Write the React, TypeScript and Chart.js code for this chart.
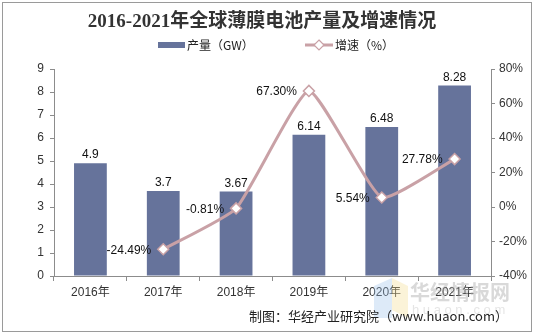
import React, { useEffect, useRef } from "react";
import { Chart, registerables } from "chart.js";

Chart.register(...registerables);

const categories = ["2016年", "2017年", "2018年", "2019年", "2020年", "2021年"];
const output = [4.9, 3.7, 3.67, 6.14, 6.48, 8.28];
const growth: (number | null)[] = [null, -24.49, -0.81, 67.3, 5.54, 27.78];
const growthLabels = ["", "-24.49%", "-0.81%", "67.30%", "5.54%", "27.78%"];
const outputLabels = ["4.9", "3.7", "3.67", "6.14", "6.48", "8.28"];
const titleText = "2016-2021年全球薄膜电池产量及增速情况";
const legendLabels = ["产量（GW）", "增速（%）"];

const BAR = "#66739b";
const LINE = "#c9a1a6";
const SANS = '"Liberation Sans", Arial, "Noto Sans CJK SC", sans-serif';
const CJK = '"Noto Sans CJK SC", "Liberation Sans", sans-serif';

const framePlugin = {
  id: "frame",
  beforeDraw(chart: any) {
    const ctx = chart.ctx;
    ctx.save();
    ctx.fillStyle = "#fff";
    ctx.fillRect(0, 0, chart.width, chart.height);
    ctx.strokeStyle = "#9a9a9a";
    ctx.lineWidth = 1;
    ctx.strokeRect(2.5, 2.5, 529, 329);
    ctx.restore();
  },
  afterDraw(chart: any) {
    const ctx = chart.ctx;
    ctx.save();
    // title
    ctx.fillStyle = "#333";
    ctx.font = 'bold 19px "Liberation Serif", "Noto Sans CJK SC", serif';
    ctx.textAlign = "center";
    ctx.textBaseline = "middle";
    ctx.fillText(titleText, 262, 22);
    // legend
    ctx.font = "12px " + CJK;
    ctx.textAlign = "left";
    ctx.fillStyle = BAR;
    ctx.fillRect(158, 42, 27, 6);
    ctx.fillStyle = "#222";
    ctx.fillText(legendLabels[0], 187, 45);
    ctx.strokeStyle = LINE;
    ctx.lineWidth = 3;
    ctx.beginPath();
    ctx.moveTo(305, 45);
    ctx.lineTo(333, 45);
    ctx.stroke();
    ctx.fillStyle = "#fff";
    ctx.lineWidth = 1.2;
    ctx.beginPath();
    ctx.moveTo(319, 40);
    ctx.lineTo(324, 45);
    ctx.lineTo(319, 50);
    ctx.lineTo(314, 45);
    ctx.closePath();
    ctx.fill();
    ctx.stroke();
    ctx.fillStyle = "#222";
    ctx.fillText(legendLabels[1], 335, 45);
    // watermark
    ctx.globalAlpha = 0.35;
    ctx.fillStyle = "#9ec3ea";
    ctx.beginPath();
    ctx.moveTo(374, 286);
    ctx.lineTo(392, 278);
    ctx.lineTo(392, 318);
    ctx.lineTo(374, 318);
    ctx.closePath();
    ctx.fill();
    ctx.fillStyle = "#f3dc8e";
    ctx.beginPath();
    ctx.moveTo(392, 278);
    ctx.lineTo(408, 286);
    ctx.lineTo(408, 318);
    ctx.lineTo(392, 310);
    ctx.closePath();
    ctx.fill();
    ctx.globalAlpha = 0.45;
    ctx.fillStyle = "#aaaaaa";
    ctx.font = 'bold 20px "Noto Sans CJK SC", sans-serif';
    ctx.textAlign = "left";
    ctx.fillText("华经情报网", 410, 292);
    ctx.globalAlpha = 0.3;
    ctx.font = '13px "Liberation Sans", sans-serif';
    ctx.fillText("h u a o n . c o m", 412, 310);
    ctx.globalAlpha = 1;
    // footer
    ctx.fillStyle = "#222";
    ctx.font = '13px "Noto Sans CJK SC", "Liberation Sans", sans-serif';
    ctx.textAlign = "right";
    ctx.fillText("制图：华经产业研究院（www.huaon.com）", 508, 316);
    ctx.restore();
  },
};

const labelPlugin = {
  id: "valueLabels",
  afterDatasetsDraw(chart: any) {
    const ctx = chart.ctx;
    ctx.save();
    ctx.fillStyle = "#111";
    ctx.font = "12px " + SANS;
    const bars = chart.getDatasetMeta(0).data;
    ctx.textAlign = "center";
    ctx.textBaseline = "alphabetic";
    bars.forEach((el: any, i: number) => {
      ctx.fillText(outputLabels[i], el.x, el.y - 5);
    });
    const pts = chart.getDatasetMeta(1).data;
    ctx.textAlign = "right";
    ctx.textBaseline = "middle";
    pts.forEach((el: any, i: number) => {
      if (growth[i] === null || !growthLabels[i]) return;
      ctx.fillText(growthLabels[i], el.x - 12, el.y + 1);
    });
    ctx.restore();
  },
};

export default function App() {
  const ref = useRef<HTMLCanvasElement | null>(null);
  useEffect(() => {
    document.body.style.margin = "0";
    const chart = new Chart(ref.current!, {
      type: "bar",
      data: {
        labels: categories,
        datasets: [
          {
            type: "bar",
            label: legendLabels[0],
            data: output,
            backgroundColor: BAR,
            yAxisID: "y",
            categoryPercentage: 0.9,
            barPercentage: 0.5,
            order: 2,
          },
          {
            type: "line",
            label: legendLabels[1],
            data: growth,
            borderColor: LINE,
            borderWidth: 3,
            tension: 0.15,
            pointStyle: "rectRot",
            pointRadius: 5.5,
            pointBorderWidth: 1.5,
            pointBackgroundColor: "#fff",
            pointBorderColor: LINE,
            yAxisID: "y1",
            order: 1,
          } as any,
        ],
      },
      options: {
        animation: false,
        responsive: false,
        maintainAspectRatio: false,
        layout: { padding: { left: 0, right: 0, top: 69, bottom: 0 } },
        plugins: {
          tooltip: { enabled: false },
          title: { display: false },
          legend: { display: false },
        },
        scales: {
          x: {
            offset: true,
            grid: { offset: true, drawOnChartArea: false, drawTicks: true, tickLength: 5, color: "#8c8c8c" },
            border: { color: "#8c8c8c" },
            ticks: { color: "#333", font: { family: SANS, size: 12 }, padding: 4 },
            afterFit(s: any) {
              s.height = 60;
            },
          },
          y: {
            position: "left",
            min: 0,
            max: 9,
            ticks: { stepSize: 1, color: "#333", font: { family: SANS, size: 12 }, padding: 6 },
            grid: { drawOnChartArea: false, drawTicks: true, tickLength: 4, color: "#8c8c8c" },
            border: { color: "#8c8c8c" },
            afterFit(s: any) {
              s.width = 54;
            },
          },
          y1: {
            position: "right",
            min: -40,
            max: 80,
            ticks: { stepSize: 20, color: "#333", font: { family: SANS, size: 12 }, padding: 4, callback: (v: any) => v + "%" },
            grid: { drawOnChartArea: false, drawTicks: true, tickLength: 4, color: "#8c8c8c" },
            border: { color: "#8c8c8c" },
            afterFit(s: any) {
              s.width = 43;
            },
          },
        },
      },
      plugins: [framePlugin, labelPlugin],
    });
    return () => chart.destroy();
  }, []);
  return (
    <div style={{ position: "absolute", left: 0, top: 0, width: 534, height: 336 }}>
      <canvas ref={ref} width={534} height={336} style={{ width: 534, height: 336 }} />
    </div>
  );
}
